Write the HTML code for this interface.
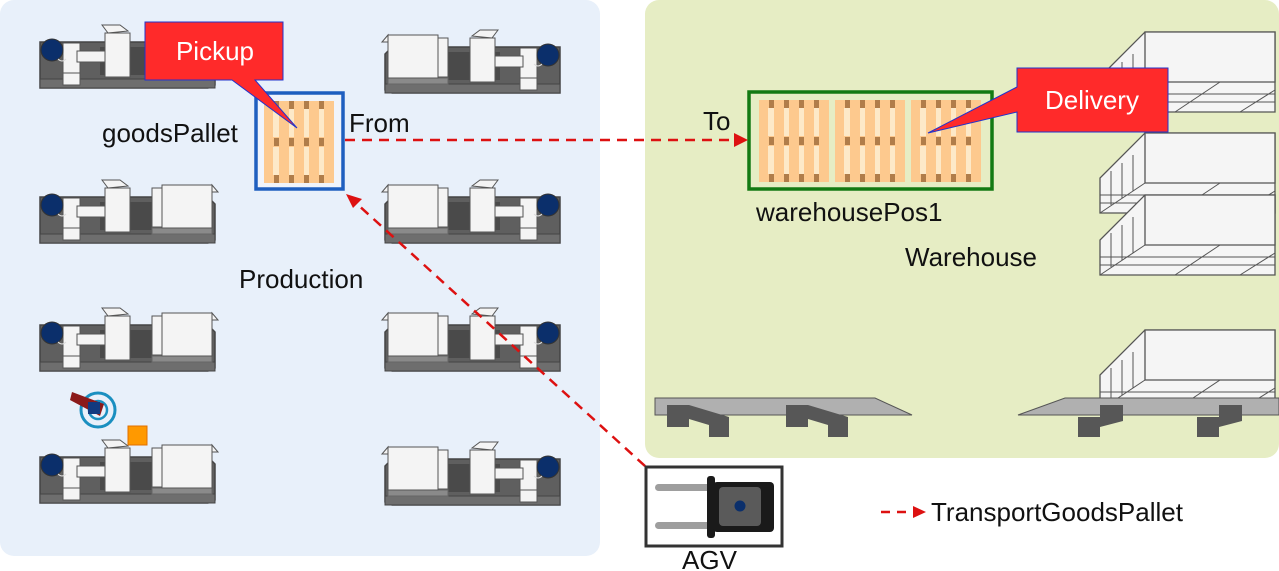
<!DOCTYPE html>
<html><head><meta charset="utf-8"><style>
html,body{margin:0;padding:0;background:#fff;}
svg{display:block;font-family:"Liberation Sans",Arial,sans-serif;}
</style></head><body>
<svg width="1279" height="571" viewBox="0 0 1279 571" xmlns="http://www.w3.org/2000/svg">
<defs>
<g id="m">
 <polygon points="0,17 168,17 175,24 175,60 168,63 0,63" fill="#5f5f5f" stroke="#444" stroke-width="1.5"/>
 <rect x="0" y="54" width="175" height="9" fill="#6e6e6e" stroke="#444"/>
 <rect x="60" y="22" width="100" height="28" fill="#4a4a4a"/>
 <rect x="112" y="48" width="60" height="6" fill="#8a8a8a" stroke="#666"/>
 <rect x="23" y="18" width="17" height="30" fill="#f4f4f4" stroke="#555"/>
 <rect x="23" y="48" width="17" height="12" fill="#f4f4f4" stroke="#555"/>
 <rect x="37" y="26" width="30" height="11" fill="#f4f4f4" stroke="#555"/>
 <polygon points="62,0 80,0 88,6 68,8" fill="#f4f4f4" stroke="#555"/>
 <rect x="65" y="8" width="25" height="44" fill="#f4f4f4" stroke="#555"/>
 <rect x="112" y="8" width="12" height="39" fill="#f4f4f4" stroke="#555"/>
 <rect x="122" y="5" width="50" height="43" fill="#f4f4f4" stroke="#555"/>
 <polygon points="172,5 178,12 172,12" fill="#f4f4f4" stroke="#555"/>
 <circle cx="12" cy="25" r="11" fill="#0b2f6b" stroke="#333"/>
 <path d="M18,34 q4,4 8,0" stroke="#ddd" fill="none"/>
</g>
<g id="p">
 <rect x="0" y="0" width="70" height="82" fill="#fde9c8"/>
 <g fill="#fdc98e">
  <rect x="0" y="0" width="9" height="82"/><rect x="15" y="0" width="10" height="82"/><rect x="30" y="0" width="10" height="82"/><rect x="45" y="0" width="10" height="82"/><rect x="60" y="0" width="10" height="82"/>
  <rect x="0" y="0" width="70" height="8"/><rect x="0" y="36" width="70" height="10"/><rect x="0" y="74" width="70" height="8"/>
 </g>
 <g fill="#b07d4a">
  <rect x="10" y="0" width="5" height="8"/><rect x="25" y="0" width="5" height="8"/><rect x="40" y="0" width="5" height="8"/><rect x="55" y="0" width="5" height="8"/>
  <rect x="10" y="37" width="5" height="8"/><rect x="25" y="37" width="5" height="8"/><rect x="40" y="37" width="5" height="8"/><rect x="55" y="37" width="5" height="8"/>
  <rect x="10" y="74" width="5" height="8"/><rect x="25" y="74" width="5" height="8"/><rect x="40" y="74" width="5" height="8"/><rect x="55" y="74" width="5" height="8"/>
 </g>
</g>
<g id="rk">
 <polygon points="0,45 0,80 175,80 175,0 45,0" fill="#f5f5f5" stroke="#555" stroke-width="1.3"/>
 <polygon points="45,0 175,0 175,50 45,50" fill="#f5f5f5" stroke="#555" stroke-width="1.3"/>
 <line x1="45" y1="50" x2="0" y2="80" stroke="#555"/>
 <line x1="11" y1="38" x2="11" y2="72" stroke="#555"/><line x1="22" y1="30" x2="22" y2="65" stroke="#555"/><line x1="33" y1="22" x2="33" y2="58" stroke="#555"/>
 <line x1="0" y1="62" x2="175" y2="62" stroke="#555"/><line x1="0" y1="70" x2="175" y2="70" stroke="#555"/>
 <line x1="120" y1="50" x2="75" y2="80" stroke="#555"/><line x1="175" y1="58" x2="140" y2="80" stroke="#555"/>
</g>
</defs>
<rect x="0" y="0" width="600" height="556" rx="14" fill="#e8f0fa"/>
<rect x="645" y="0" width="634" height="458" rx="14" fill="#e6edc4"/>

<use href="#m" x="40" y="25"/><use href="#m" x="40" y="180"/><use href="#m" x="40" y="308"/><use href="#m" x="40" y="440"/>
<use href="#m" transform="translate(560,30) scale(-1,1)"/><use href="#m" transform="translate(560,180) scale(-1,1)"/>
<use href="#m" transform="translate(560,308) scale(-1,1)"/><use href="#m" transform="translate(560,442) scale(-1,1)"/>

<circle cx="98" cy="410" r="17" fill="none" stroke="#1a8fc0" stroke-width="3"/>
<circle cx="98" cy="410" r="9" fill="none" stroke="#1a8fc0" stroke-width="2.5"/>
<path d="M72,392 L104,404 L100,416 L70,400 Z" fill="#8b1a1a"/>
<rect x="88" y="402" width="12" height="12" fill="#123a80"/>
<rect x="128" y="426" width="19" height="19" fill="#ff9900" stroke="#e07000"/>

<use href="#rk" x="1100" y="32"/><use href="#rk" x="1100" y="133"/><use href="#rk" x="1100" y="195"/><use href="#rk" x="1100" y="330"/>
<polygon points="655,398 875,398 912,415 655,415" fill="#b0b0b0" stroke="#555"/>
<polygon points="1065,398 1279,398 1279,415 1018,415" fill="#b0b0b0" stroke="#555"/>
<g fill="#575757">
<path d="M667,405 h22 l40,12 v20 h-20 v-12 l-20,-6 v8 h-22z"/>
<path d="M786,405 h22 l40,12 v20 h-20 v-12 l-20,-6 v8 h-22z"/>
<path d="M1078,417 h22 v-12 h23 v16 l-23,6 v10 h-22z"/>
<path d="M1197,417 h22 v-12 h23 v16 l-23,6 v10 h-22z"/>
</g>

<rect x="256" y="93" width="87" height="96" fill="#f0f4fb" stroke="#1f5fbf" stroke-width="3.5"/>
<use href="#p" x="264" y="101"/>
<rect x="749" y="92" width="243" height="97" fill="#e6edc4" stroke="#137a13" stroke-width="3.5"/>
<use href="#p" x="759" y="100"/><use href="#p" x="835" y="100"/><use href="#p" x="911" y="100"/>

<line x1="345" y1="140" x2="736" y2="140" stroke="#dd1111" stroke-width="2.5" stroke-dasharray="10,7"/>
<polygon points="748,140 734,133 734,147" fill="#dd1111"/>
<line x1="645" y1="466" x2="356" y2="203" stroke="#dd1111" stroke-width="2.5" stroke-dasharray="10,7"/>
<polygon points="346,194 362,199 353,208" fill="#dd1111"/>

<polygon points="145,22 283,22 283,80 255,80 297,128 232,80 145,80" fill="#ff2a2a" stroke="#2233cc" stroke-width="1"/>
<text x="215" y="60" font-size="26" fill="#fff" text-anchor="middle">Pickup</text>
<polygon points="1017,68 1168,68 1168,132 1017,132 1017,112 928,133 1017,87" fill="#ff2a2a" stroke="#2233cc" stroke-width="1"/>
<text x="1092" y="109" font-size="26" fill="#fff" text-anchor="middle">Delivery</text>

<rect x="646" y="467" width="136" height="79" fill="#fff" stroke="#333" stroke-width="3"/>
<rect x="655" y="484" width="58" height="7" rx="3.5" fill="#9e9e9e"/>
<rect x="655" y="522" width="58" height="7" rx="3.5" fill="#9e9e9e"/>
<rect x="707" y="476" width="8" height="62" rx="3" fill="#1a1a1a"/>
<rect x="713" y="482" width="61" height="50" rx="4" fill="#1a1a1a"/>
<rect x="719" y="487" width="42" height="39" rx="4" fill="#5a5a5a"/>
<circle cx="740" cy="506" r="5.5" fill="#0b2f6b"/>

<g font-size="26" fill="#111">
<text x="102" y="142">goodsPallet</text>
<text x="349" y="132">From</text>
<text x="703" y="130">To</text>
<text x="756" y="221">warehousePos1</text>
<text x="905" y="266">Warehouse</text>
<text x="239" y="288">Production</text>
<text x="682" y="569">AGV</text>
<text x="931" y="521">TransportGoodsPallet</text>
</g>
<line x1="881" y1="512" x2="915" y2="512" stroke="#dd1111" stroke-width="2.5" stroke-dasharray="9,7"/>
<polygon points="926,512 913,506 913,518" fill="#dd1111"/>
</svg>
</body></html>
